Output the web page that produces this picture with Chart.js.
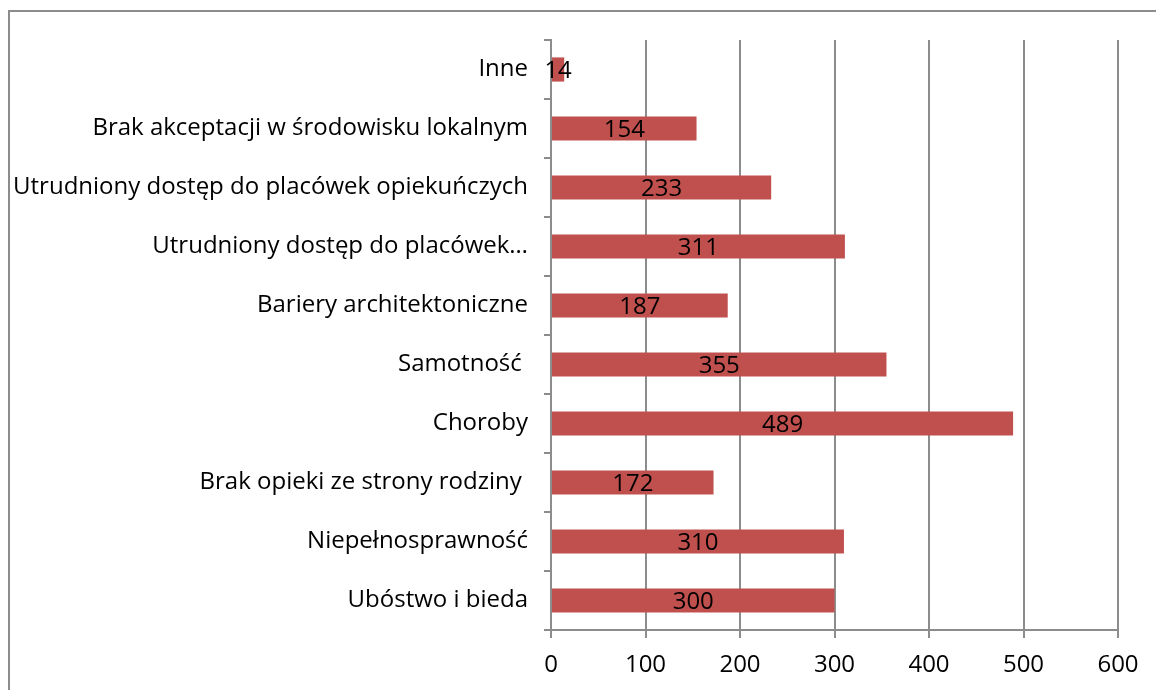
<!DOCTYPE html>
<html>
<head>
<meta charset="utf-8">
<script src="https://cdn.jsdelivr.net/npm/chart.js@4"></script>
<style>
  html, body { margin: 0; padding: 0; background: #fff; overflow: hidden; }
  #frame { position: absolute; left: 8px; top: 10px; width: 1300px; height: 800px;
           border-top: 2px solid #8c8c8c; border-left: 2px solid #8c8c8c; }
  #myChart { position: absolute; left: 0; top: 0; }
</style>
</head>
<body>
<div id="frame"></div>
<canvas id="myChart" width="1156" height="690"></canvas>
<script>
// kategorie i wartości
const categories = [
  'Inne',
  'Brak akceptacji w środowisku lokalnym',
  'Utrudniony dostęp do placówek opiekuńczych',
  'Utrudniony dostęp do placówek…',
  'Bariery architektoniczne',
  'Samotność ',
  'Choroby',
  'Brak opieki ze strony rodziny ',
  'Niepełnosprawność',
  'Ubóstwo i bieda'
];
const values = [14, 154, 233, 311, 187, 355, 489, 172, 310, 300];
const xTicks = [0, 100, 200, 300, 400, 500, 600];

const fontFamily = '"Open Sans", "Noto Sans", sans-serif';

// etykiety wartości na środku słupków
const barLabels = {
  id: 'barLabels',
  afterDatasetsDraw(chart) {
    const ctx = chart.ctx;
    const meta = chart.getDatasetMeta(0);
    ctx.save();
    ctx.font = '24px ' + fontFamily;
    ctx.fillStyle = '#000';
    ctx.textAlign = 'center';
    ctx.textBaseline = 'middle';
    meta.data.forEach((bar, i) => {
      const cx = (bar.x + bar.base) / 2;
      ctx.fillText(String(values[i]), cx, bar.y + 2);
    });
    ctx.restore();
  }
};

const ctx = document.getElementById('myChart').getContext('2d');
const myChart = new Chart(ctx, {
  type: 'bar',
  data: {
    labels: categories,
    datasets: [{
      data: values,
      backgroundColor: '#C0504D',
      borderWidth: 0,
      categoryPercentage: 1,
      barPercentage: 0.41
    }]
  },
  options: {
    indexAxis: 'y',
    responsive: false,
    animation: false,
    devicePixelRatio: 1,
    layout: { padding: { left: 0, top: 40, right: 38, bottom: 0 } },
    plugins: {
      legend: { display: false },
      tooltip: { enabled: false }
    },
    scales: {
      x: {
        min: 0,
        max: 600,
        afterBuildTicks: (scale) => { scale.ticks = xTicks.map(v => ({ value: v })); },
        afterFit: (scale) => { scale.height = 60; },
        grid: { color: '#8c8c8c', lineWidth: 2, tickLength: 8 },
        border: { color: '#8c8c8c', width: 2 },
        ticks: { color: '#000', padding: 13, font: { size: 24, family: fontFamily } }
      },
      y: {
        afterFit: (scale) => { scale.width = 551; },
        grid: { drawOnChartArea: false, color: '#8c8c8c', lineWidth: 2, tickLength: 7, offset: true },
        border: { color: '#8c8c8c', width: 2 },
        ticks: { color: '#000', padding: 16, font: { size: 24, family: fontFamily } }
      }
    }
  },
  plugins: [barLabels]
});
</script>
</body>
</html>
